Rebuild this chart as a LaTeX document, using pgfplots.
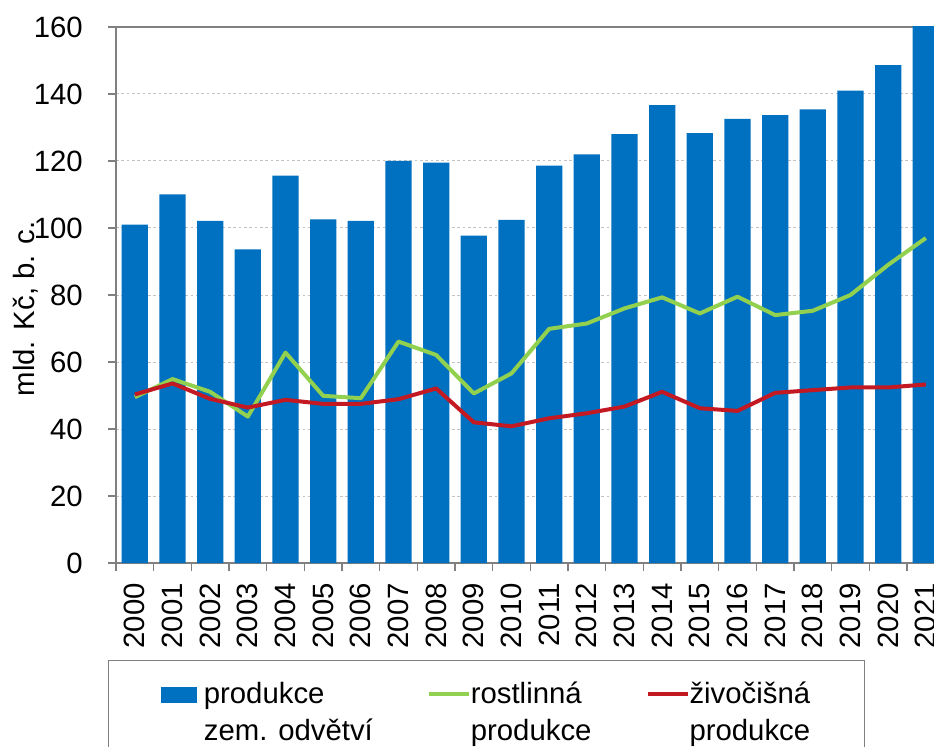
\documentclass[border=0pt]{standalone}
\usepackage{pgfplots}
\usepackage{pgfplotstable}
\pgfplotsset{compat=1.18}
\usepackage{fontspec}
\setmainfont{Liberation Sans}
\definecolor{barblue}{RGB}{0,112,192}
\definecolor{lgreen}{RGB}{146,208,80}
\definecolor{dred}{RGB}{195,25,35}
\definecolor{axgray}{RGB}{128,128,128}
\definecolor{gridgray}{RGB}{195,195,195}
\pgfplotstableread{
x year bar green red
0 2000 101.0 49.5 50.3
1 2001 110.0 54.9 53.6
2 2002 102.1 51.1 49.0
3 2003 93.6 43.7 46.4
4 2004 115.6 62.8 48.7
5 2005 102.6 49.9 47.5
6 2006 102.1 49.2 47.5
7 2007 120.0 66.1 48.9
8 2008 119.5 62.1 52.1
9 2009 97.7 50.6 42.0
10 2010 102.4 56.6 40.8
11 2011 118.6 69.9 43.2
12 2012 122.0 71.5 44.7
13 2013 128.0 76.0 46.7
14 2014 136.7 79.3 51.1
15 2015 128.3 74.5 46.2
16 2016 132.6 79.5 45.4
17 2017 133.7 74.0 50.8
18 2018 135.4 75.3 51.6
19 2019 141.0 80.0 52.4
20 2020 148.6 89.0 52.4
21 2021 161.0 97.0 53.3
}\datatable
\begin{document}%
\fontsize{22}{26}\selectfont%
\renewcommand{\arraystretch}{1.07}%
\raisebox{0pt}[422.25pt][137.25pt]{%
\begin{tikzpicture}[trim left=-87pt, trim right=613.5pt, baseline=0pt]
\clip (-87pt,-137.25pt) rectangle (613.5pt,422.25pt);
\begin{axis}[
  width=621.5pt, height=402pt, scale only axis,
  at={(0pt,0pt)}, anchor=south west,
  xmin=-0.5, xmax=21.5, ymin=0, ymax=160,
  font=\fontsize{22}{26}\selectfont,
  /pgf/number format/assume math mode=true,
  axis line style={draw=axgray, line width=1pt},
  tick style={draw=axgray, line width=1pt},
  tick align=outside,
  major tick length=6pt,
  xtick={-0.5,0.5,...,21.5},
  xticklabels={},
  xtick pos=bottom,
  ytick pos=left,
  extra x ticks={0,1,...,21},
  extra x tick labels={2000,2001,2002,2003,2004,2005,2006,2007,2008,2009,2010,2011,2012,2013,2014,2015,2016,2017,2018,2019,2020,2021},
  extra x tick style={major tick length=0pt, grid=none,
    xticklabel style={yshift=-15pt, rotate=90, anchor=east, inner sep=0pt}},
  ytick={0,20,...,160},
  yticklabel style={anchor=east, inner sep=0pt, xshift=-18.75pt},
  ymajorgrids,
  major grid style={draw=gridgray, line width=0.75pt, dash pattern=on 2pt off 2pt},
  ylabel={mld. Kč, b. c.},
  ylabel style={at={(axis description cs:-0.1094,0.474)}, anchor=center},
  legend columns=3,
  legend cell align=left,
  legend style={at={(-0.00965,-0.181)}, anchor=north west,
    draw=axgray, line width=0.75pt,
    inner xsep=39.5pt, inner ysep=12pt,
    font=\fontsize{22}{26}\selectfont,
    cells={anchor=base west},
    nodes={inner sep=1pt, text depth=45pt},
    /tikz/every odd column/.append style={column sep=-1pt},
    /tikz/every even column/.append style={column sep=39.5pt}},
]
\addplot[ybar, bar width=19.7pt, bar shift=0pt, fill=barblue, draw=none,
  legend image code/.code={\fill[barblue] (0pt,0.75pt) rectangle (27pt,12.75pt); \path (32pt,0.75pt);}]
  table[x=x, y=bar] {\datatable};
\addlegendentry{\begin{tabular}[t]{@{}l@{}}produkce\\zem. odvětví\end{tabular}}
\addplot[lgreen, line width=3pt, line join=round, mark=none,
  legend image code/.code={\draw[lgreen, line width=3pt] (0pt,7pt) -- (30pt,7pt);}]
  table[x=x, y=green] {\datatable};
\addlegendentry{\begin{tabular}[t]{@{}l@{}}rostlinná\\produkce\end{tabular}}
\addplot[dred, line width=3pt, line join=round, mark=none,
  legend image code/.code={\draw[dred, line width=3pt] (0pt,7pt) -- (30pt,7pt);}]
  table[x=x, y=red] {\datatable};
\addlegendentry{\begin{tabular}[t]{@{}l@{}}živočišná\\produkce\end{tabular}}
\end{axis}
\end{tikzpicture}}%
\end{document}
